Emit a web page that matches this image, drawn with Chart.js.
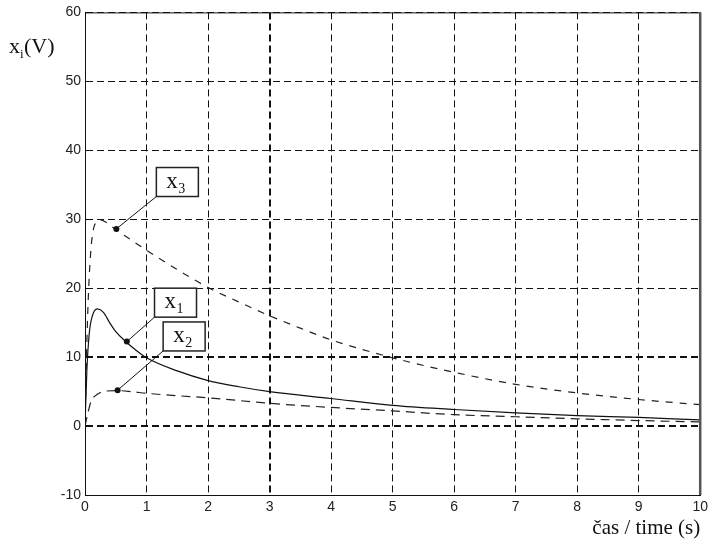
<!DOCTYPE html>
<html>
<head>
<meta charset="utf-8">
<script src="https://cdn.jsdelivr.net/npm/chart.js@4"></script>
<style>
  html, body { margin: 0; padding: 0; background: #fff; }
  canvas { display: block; }
</style>
</head>
<body>
<canvas id="respChart" width="712" height="546"></canvas>
<script>
// time axis and the three responses
const timeX1 = [0, 0.03, 0.07, 0.12, 0.2, 0.3, 0.4, 0.5, 0.67, 0.8, 1, 1.5, 2, 2.5, 3, 4, 5, 6, 7, 8, 9, 10];
const valX1  = [0, 8, 13.5, 16, 17, 16.5, 15, 13.7, 12.2, 11.2, 9.9, 8, 6.6, 5.7, 5.0, 4.0, 3.0, 2.4, 1.9, 1.5, 1.25, 0.9];

const timeX2 = [0, 0.05, 0.1, 0.2, 0.3, 0.5, 0.75, 1, 1.5, 2, 3, 4, 5, 6, 7, 8, 9, 10];
const valX2  = [0, 2, 3.6, 4.6, 5.0, 5.15, 5.0, 4.75, 4.4, 4.1, 3.3, 2.7, 2.2, 1.65, 1.35, 1.05, 0.8, 0.6];

const timeX3 = [0, 0.03, 0.06, 0.1, 0.15, 0.25, 0.35, 0.5, 0.75, 1, 1.5, 2, 2.5, 3, 3.5, 4, 5, 6, 7, 8, 9, 10];
const valX3  = [0, 12, 20, 26, 29, 29.9, 29.5, 28.5, 27, 25.5, 22.7, 20.1, 18, 16, 14.2, 12.5, 9.9, 7.8, 6.05, 4.8, 3.85, 3.1];

// label boxes: subscript, marked point (t, v), box top-left (t, v)
const annoNames = ['1', '2', '3'];
const annoPointT = [0.68, 0.53, 0.51];
const annoPointV = [12.25, 5.2, 28.6];
const annoBoxT = [1.13, 1.27, 1.16];
const annoBoxV = [20.0, 15.1, 37.5];

const yTicks = [-10, 0, 10, 20, 30, 40, 50, 60];

function pts(t, v) {
    return t.map((x, i) => ({ x: x, y: v[i] }));
}

const framePlugin = {
    id: 'frame',
    afterDatasetsDraw(chart) {
        const { ctx, chartArea: a, scales } = chart;
        ctx.save();
        // frame
        ctx.setLineDash([]);
        ctx.strokeStyle = '#111';
        ctx.lineWidth = 1;
        ctx.beginPath();
        ctx.moveTo(a.right, a.top + 0.5);
        ctx.lineTo(a.left, a.top + 0.5);
        ctx.stroke();
        ctx.strokeStyle = '#555';
        ctx.lineWidth = 2.5;
        ctx.beginPath();
        ctx.moveTo(a.right, a.top);
        ctx.lineTo(a.right, a.bottom);
        ctx.stroke();

        // label boxes
        for (let i = 0; i < annoNames.length; i++) {
            const px = scales.x.getPixelForValue(annoPointT[i]);
            const py = scales.y.getPixelForValue(annoPointV[i]);
            const bx = scales.x.getPixelForValue(annoBoxT[i]);
            const by = scales.y.getPixelForValue(annoBoxV[i]);
            const bw = 42, bh = 29;
            ctx.strokeStyle = '#111';
            ctx.lineWidth = 1;
            ctx.beginPath();
            ctx.moveTo(bx, by + bh);
            ctx.lineTo(px, py);
            ctx.stroke();
            ctx.fillStyle = '#111';
            ctx.beginPath();
            ctx.arc(px, py, 3, 0, Math.PI * 2);
            ctx.fill();
            ctx.fillStyle = '#fff';
            ctx.fillRect(bx, by, bw, bh);
            ctx.strokeStyle = '#222';
            ctx.lineWidth = 1.5;
            ctx.strokeRect(bx, by, bw, bh);
            ctx.fillStyle = '#111';
            ctx.textBaseline = 'alphabetic';
            ctx.textAlign = 'left';
            ctx.font = '23px "Liberation Serif"';
            ctx.fillText('x', bx + 10, by + 20);
            ctx.font = '14px "Liberation Serif"';
            ctx.fillText(annoNames[i], bx + 22, by + 25);
        }

        // y axis label
        ctx.fillStyle = '#111';
        ctx.font = '22px "Liberation Serif"';
        ctx.fillText('x', 9, 53);
        ctx.font = '13px "Liberation Serif"';
        ctx.fillText('i', 20, 58);
        ctx.font = '22px "Liberation Serif"';
        ctx.fillText('(V)', 24, 53);
        ctx.restore();
    }
};

const ctx = document.getElementById('respChart');

new Chart(ctx, {
    type: 'line',
    data: {
        datasets: [
            {
                label: 'x1',
                data: pts(timeX1, valX1),
                borderColor: '#111',
                borderWidth: 1.2,
                pointRadius: 0,
                cubicInterpolationMode: 'monotone'
            },
            {
                label: 'x2',
                data: pts(timeX2, valX2),
                borderColor: '#222',
                borderWidth: 1.2,
                borderDash: [9, 6],
                pointRadius: 0,
                cubicInterpolationMode: 'monotone'
            },
            {
                label: 'x3',
                data: pts(timeX3, valX3),
                borderColor: '#222',
                borderWidth: 1.2,
                borderDash: [7, 7],
                pointRadius: 0,
                cubicInterpolationMode: 'monotone'
            }
        ]
    },
    options: {
        responsive: false,
        animation: false,
        layout: { padding: { top: 9, right: 7, left: 0, bottom: 0 } },
        plugins: {
            legend: { display: false },
            tooltip: { enabled: false }
        },
        scales: {
            x: {
                type: 'linear',
                min: 0,
                max: 10,
                ticks: {
                    stepSize: 1,
                    padding: 4,
                    autoSkip: false,
                    maxRotation: 0,
                    color: '#222',
                    font: { family: '"Liberation Sans"', size: 14 }
                },
                grid: {
                    color: '#111',
                    drawTicks: false,
                    lineWidth: (c) => (c.tick && c.tick.value === 3 ? 2 : 1)
                },
                border: { color: '#111', width: 1, dash: [7, 4] },
                title: {
                    display: true,
                    text: 'čas / time (s)',
                    align: 'end',
                    color: '#111',
                    font: { family: '"Liberation Serif"', size: 21 },
                    padding: { top: 0, bottom: 5 }
                },
                afterFit: (s) => { s.height = 51; }
            },
            y: {
                type: 'linear',
                min: -10,
                max: 60,
                afterBuildTicks: (s) => { s.ticks = yTicks.map(v => ({ value: v })); },
                ticks: {
                    padding: 4,
                    autoSkip: false,
                    color: '#222',
                    font: { family: '"Liberation Sans"', size: 14 }
                },
                grid: {
                    color: '#111',
                    drawTicks: false,
                    lineWidth: (c) => (c.tick && (c.tick.value === 0 || c.tick.value === 10) ? 2 : 1)
                },
                border: { color: '#111', width: 1, dash: [7, 4] },
                afterFit: (s) => { s.width = 85; }
            }
        }
    },
    plugins: [framePlugin]
});
</script>
</body>
</html>
